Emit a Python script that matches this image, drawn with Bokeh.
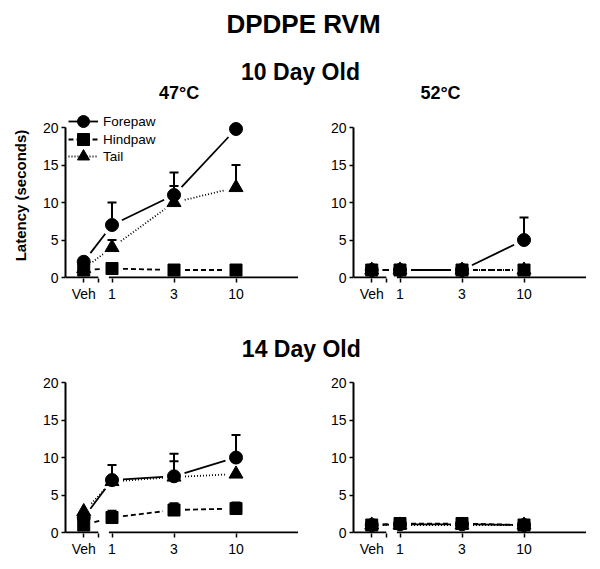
import math
from bokeh.plotting import figure
from bokeh.layouts import column, row
from bokeh.models import (Range1d, FixedTicker, Label, Legend, LegendItem,
                          Whisker, TeeHead, ColumnDataSource)
from bokeh.embed import file_html
from bokeh.resources import INLINE

FONT = "Liberation Sans"

# ---------------- data ----------------
x_labels = ["Veh", "1", "3", "10"]
x_pos = [-0.228, 0.0, 0.5, 1.0]          # Veh, then log-dose positions
y_ticks = [0, 5, 10, 15, 20]
series_names = ["Forepaw", "Hindpaw", "Tail"]

# 10 Day Old, 47 C
d10_47_forepaw = [2.1, 7.0, 11.0, 19.8]
d10_47_forepaw_sem = [0.0, 3.0, 3.0, 0.0]
d10_47_hindpaw = [1.0, 1.2, 1.0, 1.0]
d10_47_hindpaw_sem = [0.0, 0.0, 0.0, 0.0]
d10_47_tail = [1.2, 4.0, 10.0, 12.0]
d10_47_tail_sem = [0.0, 1.0, 2.2, 3.0]

# 10 Day Old, 52 C
d10_52_forepaw = [1.0, 1.0, 1.0, 5.0]
d10_52_forepaw_sem = [0.0, 0.0, 0.0, 3.0]
d10_52_hindpaw = [1.0, 1.0, 1.0, 1.0]
d10_52_hindpaw_sem = [0.0, 0.0, 0.0, 0.0]
d10_52_tail = [1.0, 1.0, 1.0, 1.0]
d10_52_tail_sem = [0.0, 0.0, 0.0, 0.0]

# 14 Day Old, 47 C
d14_47_forepaw = [2.0, 7.0, 7.5, 10.0]
d14_47_forepaw_sem = [0.0, 2.0, 3.0, 3.0]
d14_47_hindpaw = [1.0, 2.0, 3.0, 3.2]
d14_47_hindpaw_sem = [0.0, 0.9, 0.9, 0.8]
d14_47_tail = [2.8, 6.8, 7.4, 7.8]
d14_47_tail_sem = [0.0, 0.0, 2.1, 0.0]

# 14 Day Old, 52 C
d14_52_forepaw = [1.0, 1.1, 1.1, 1.0]
d14_52_forepaw_sem = [0.0, 0.0, 0.0, 0.0]
d14_52_hindpaw = [1.0, 1.2, 1.2, 1.0]
d14_52_hindpaw_sem = [0.0, 0.0, 0.0, 0.0]
d14_52_tail = [1.0, 1.0, 1.0, 1.0]
d14_52_tail_sem = [0.0, 0.0, 0.0, 0.0]

# ---------------- layout constants ----------------
X_START, X_END = -0.375, 1.52
BREAK_L, BREAK_R = -0.11, -0.025     # broken x axis
AXIS_END = 1.5
Y_START = -0.13
FRAME_W = 235
GAP = 11                              # px gap between line and symbol
TICK_FONT = "14px"

STYLES = {
    "Forepaw": dict(marker="circle", size=13, dash="solid", lw=1.8),
    "Hindpaw": dict(marker="square", size=12, dash="5 3", lw=1.8),
    "Tail": dict(marker="triangle", size=14, dash="1 2", lw=1.8),
}


def gapped(xs, ys, px_x, px_y, gap=GAP):
    x0s, y0s, x1s, y1s = [], [], [], []
    for i in range(len(xs) - 1):
        dx = (xs[i + 1] - xs[i]) * px_x
        dy = (ys[i + 1] - ys[i]) * px_y
        L = math.hypot(dx, dy)
        if L <= 2 * gap + 1:
            continue
        t0, t1 = gap / L, 1 - gap / L
        x0s.append(xs[i] + t0 * (xs[i + 1] - xs[i]))
        y0s.append(ys[i] + t0 * (ys[i + 1] - ys[i]))
        x1s.append(xs[i] + t1 * (xs[i + 1] - xs[i]))
        y1s.append(ys[i] + t1 * (ys[i + 1] - ys[i]))
    return dict(x0=x0s, y0=y0s, x1=x1s, y1=y1s)


def make_panel(series, height, y_end, left, right, bottom, ylabel=None, legend=False):
    p = figure(width=left + FRAME_W + right, height=height,
               x_range=Range1d(X_START, X_END), y_range=Range1d(Y_START, y_end),
               output_backend="svg", toolbar_location=None,
               min_border_left=left, min_border_right=right,
               min_border_top=0, min_border_bottom=bottom)
    p.outline_line_color = None
    p.grid.visible = False

    frame_h = height - bottom
    px_x = FRAME_W / (X_END - X_START)
    px_y = frame_h / (y_end - Y_START)

    # broken x axis line
    p.segment(x0=[X_START, BREAK_R], y0=[0, 0], x1=[BREAK_L, AXIS_END], y1=[0, 0],
              line_color="black", line_width=2)

    line_r, mark_r = {}, {}
    for name, (vals, sem) in series.items():
        st = STYLES[name]
        seg = gapped(x_pos, vals, px_x, px_y)
        line_r[name] = p.segment(x0="x0", y0="y0", x1="x1", y1="y1",
                                 source=ColumnDataSource(seg),
                                 line_color="black", line_width=st["lw"],
                                 line_dash=st["dash"])
    for name, (vals, sem) in series.items():
        bx = [x for x, s in zip(x_pos, sem) if s > 0]
        lo = [v for v, s in zip(vals, sem) if s > 0]
        up = [v + s for v, s in zip(vals, sem) if s > 0]
        if bx:
            src = ColumnDataSource(dict(base=bx, lower=lo, upper=up))
            p.add_layout(Whisker(source=src, base="base", lower="lower", upper="upper",
                                 line_width=2, line_color="black", lower_head=None,
                                 upper_head=TeeHead(size=9, line_width=2, line_color="black")))
    for name, (vals, sem) in series.items():
        st = STYLES[name]
        mark_r[name] = p.scatter(x=x_pos, y=vals, marker=st["marker"], size=st["size"],
                                 fill_color="black", line_color="black")

    # y axis
    p.yaxis.ticker = FixedTicker(ticks=y_ticks)
    p.yaxis.bounds = (0, 20)
    p.yaxis.minor_tick_line_color = None
    p.yaxis.major_tick_in = 0
    p.yaxis.major_tick_out = 4
    p.yaxis.major_tick_line_width = 1.5
    p.yaxis.axis_line_width = 2
    p.yaxis.major_label_standoff = 3
    p.yaxis.major_label_text_font = FONT
    p.yaxis.major_label_text_font_size = TICK_FONT
    p.yaxis.major_label_text_color = "black"
    if ylabel:
        p.yaxis.axis_label = ylabel
        p.yaxis.axis_label_text_font = FONT
        p.yaxis.axis_label_text_font_style = "bold"
        p.yaxis.axis_label_text_font_size = "15px"
        p.yaxis.axis_label_text_color = "black"
        p.yaxis.axis_label_standoff = 11

    # x axis (line drawn as broken segments above)
    ticks = [x_pos[0], BREAK_L] + x_pos[1:]
    p.xaxis.ticker = FixedTicker(ticks=ticks)
    overrides = {x: lab for x, lab in zip(x_pos, x_labels)}
    overrides[BREAK_L] = ""
    p.xaxis.major_label_overrides = overrides
    p.xaxis.axis_line_color = None
    p.xaxis.minor_tick_line_color = None
    p.xaxis.major_tick_in = 0
    p.xaxis.major_tick_out = 4
    p.xaxis.major_tick_line_width = 1.5
    p.xaxis.major_label_standoff = 3
    p.xaxis.major_label_text_font = FONT
    p.xaxis.major_label_text_font_size = TICK_FONT
    p.xaxis.major_label_text_color = "black"

    if legend:
        # one single-entry legend per row
        row_centres = [156.7, 139, 121.7]   # px above frame bottom
        for n, yc in zip(series_names, row_centres):
            lg = Legend(items=[LegendItem(label=n, renderers=[line_r[n], mark_r[n]])],
                        location=(3, yc - 15), orientation="vertical",
                        glyph_width=30, glyph_height=30, padding=0, margin=0,
                        label_standoff=5, label_height=14,
                        label_text_font=FONT, label_text_font_size="13.5px",
                        label_text_color="black", border_line_color=None,
                        background_fill_alpha=0)
            p.add_layout(lg)
    return p


def text_fig(height, labels):
    p = figure(width=592, height=height, x_range=Range1d(0, 592), y_range=Range1d(0, height),
               x_axis_type=None, y_axis_type=None, toolbar_location=None,
               output_backend="svg", min_border_left=0, min_border_right=0,
               min_border_top=0, min_border_bottom=0)
    p.outline_line_color = None
    for (x, y, txt, size) in labels:
        p.add_layout(Label(x=x, y=y, x_units="screen", y_units="screen", text=txt,
                           text_align="center", text_baseline="middle",
                           text_font=FONT, text_font_style="bold",
                           text_font_size=size, text_color="black"))
    return p


title1 = text_fig(112, [
    (303, 89, "DPDPE RVM", "26px"),
    (300, 41, "10 Day Old", "23px"),
    (178.7, 19.3, "47°C", "18px"),
    (440, 19.3, "52°C", "18px"),
])
title2 = text_fig(62, [(300.8, 17.7, "14 Day Old", "23px")])

tl = make_panel({"Forepaw": (d10_47_forepaw, d10_47_forepaw_sem),
                 "Hindpaw": (d10_47_hindpaw, d10_47_hindpaw_sem),
                 "Tail": (d10_47_tail, d10_47_tail_sem)},
                192, 22.0, 65, 0, 25, ylabel="Latency (seconds)", legend=True)
tr = make_panel({"Forepaw": (d10_52_forepaw, d10_52_forepaw_sem),
                 "Hindpaw": (d10_52_hindpaw, d10_52_hindpaw_sem),
                 "Tail": (d10_52_tail, d10_52_tail_sem)},
                192, 22.0, 53, 4, 25)
bl = make_panel({"Forepaw": (d14_47_forepaw, d14_47_forepaw_sem),
                 "Hindpaw": (d14_47_hindpaw, d14_47_hindpaw_sem),
                 "Tail": (d14_47_tail, d14_47_tail_sem)},
                195, 22.14, 65, 0, 28)
br = make_panel({"Forepaw": (d14_52_forepaw, d14_52_forepaw_sem),
                 "Hindpaw": (d14_52_hindpaw, d14_52_hindpaw_sem),
                 "Tail": (d14_52_tail, d14_52_tail_sem)},
                195, 22.14, 53, 4, 28)

layout = column(title1, row(tl, tr), title2, row(bl, br))
open("out.html", "w").write(file_html(layout, INLINE))
